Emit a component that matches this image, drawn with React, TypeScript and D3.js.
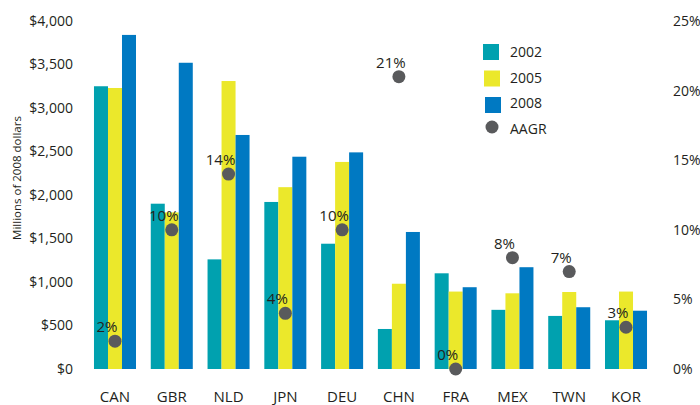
import React from "react";
import * as d3 from "d3";

const categories = ["CAN", "GBR", "NLD", "JPN", "DEU", "CHN", "FRA", "MEX", "TWN", "KOR"];
const series = ["2002", "2005", "2008"];
const values2002 = [3250, 1900, 1260, 1920, 1440, 460, 1100, 680, 610, 560];
const values2005 = [3230, 1800, 3310, 2090, 2380, 980, 890, 870, 885, 890];
const values2008 = [3840, 3520, 2690, 2440, 2490, 1575, 940, 1170, 710, 670];
const aagr = [0.02, 0.10, 0.14, 0.04, 0.10, 0.21, 0.0, 0.08, 0.07, 0.03];
const leftTicks = [0, 500, 1000, 1500, 2000, 2500, 3000, 3500, 4000];
const rightTicks = [0, 0.05, 0.1, 0.15, 0.2, 0.25];

const colors = ["#00A1AF", "#EBE82B", "#0079C2"];
const dotColor = "#595A5C";
const FONT = "'Open Sans', sans-serif";

export default function App() {
  const W = 700, H = 405;
  const x = d3.scaleBand<string>().domain(categories).range([86.6, 654.4]).paddingInner(0.26).paddingOuter(0.13);
  const xs = d3.scaleBand<string>().domain(series).range([0, x.bandwidth()]).padding(0);
  const y = d3.scaleLinear().domain([0, 4000]).range([369, 21]);
  const yr = d3.scaleLinear().domain([0, 0.25]).range([369, 21]);
  const money = d3.format("$,");
  const pct = d3.format(".0%");
  const seriesValues = [values2002, values2005, values2008];

  return (
    <svg width={W} height={H} style={{ position: "absolute", left: 0, top: 0, background: "#fff" }} fontFamily={FONT}>
      {leftTicks.map((t) => (
        <text key={t} x={73} y={y(t)} dy="0.35em" textAnchor="end" fontSize={14} fill="#231F20">
          {money(t)}
        </text>
      ))}
      {rightTicks.map((t) => (
        <text key={t} x={673} y={yr(t)} dy="0.35em" textAnchor="start" fontSize={14} fill="#231F20">
          {pct(t)}
        </text>
      ))}
      <text transform={`translate(21,178) rotate(-90)`} textAnchor="middle" fontSize={11.5} fill="#231F20">
        Millions of 2008 dollars
      </text>
      {categories.map((c, i) => (
        <g key={c} transform={`translate(${x(c)},0)`}>
          {series.map((s, j) => (
            <rect
              key={s}
              x={xs(s)}
              y={y(seriesValues[j][i])}
              width={xs.bandwidth()}
              height={y(0) - y(seriesValues[j][i])}
              fill={colors[j]}
            />
          ))}
        </g>
      ))}
      {categories.map((c, i) => (
        <text key={c} x={(x(c) as number) + x.bandwidth() / 2} y={402} textAnchor="middle" fontSize={15} fill="#231F20">
          {c}
        </text>
      ))}
      {categories.map((c, i) => {
        const cx = (x(c) as number) + x.bandwidth() / 2;
        const cy = yr(aagr[i]);
        return (
          <g key={c}>
            <circle cx={cx} cy={cy} r={6.5} fill={dotColor} />
            <text x={cx - 8} y={cy - 9} textAnchor="middle" fontSize={15} fill="#231F20">
              {pct(aagr[i])}
            </text>
          </g>
        );
      })}
      <g>
        {series.map((s, i) => (
          <g key={s}>
            <rect x={483 + i} y={44 + i * 26.5} width={16} height={16} fill={colors[i]} />
            <text x={510} y={57 + i * 25.5} fontSize={14} fill="#231F20">{s}</text>
          </g>
        ))}
        <circle cx={492} cy={127} r={6.5} fill={dotColor} />
        <text x={510} y={57 + 3 * 25.5} fontSize={14} fill="#231F20">AAGR</text>
      </g>
    </svg>
  );
}
